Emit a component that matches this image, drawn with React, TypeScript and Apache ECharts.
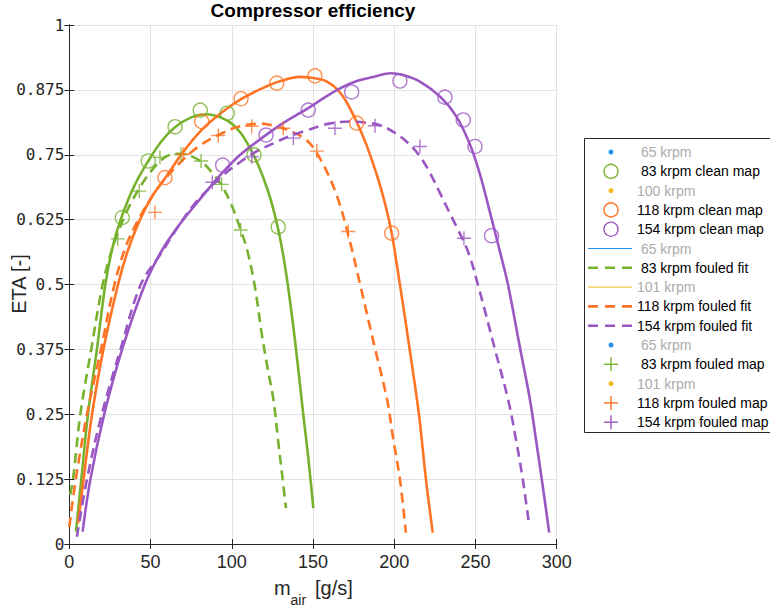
import React, { useEffect, useRef } from "react";
import * as echarts from "echarts";

type P = [number, number];

// Axis ranges
const X_MIN = 0, X_MAX = 300, X_STEP = 50;
const Y_MIN = 0, Y_MAX = 1, Y_STEP = 0.125;

// Fit curves: [m_air g/s, eta]
const cleanFit83: P[] = [[4.1,0.024],[7.4,0.125],[11.5,0.25],[17,0.375],[22.2,0.5],[26.5,0.57],[31.6,0.625],[40,0.69],[48.6,0.738],[57,0.777],[65,0.803],[75,0.822],[84,0.828],[93,0.822],[100,0.81],[106,0.79],[112,0.758],[117,0.725],[122,0.683],[126,0.64],[130,0.585],[134,0.51],[139,0.39],[144,0.25],[147.3,0.16],[150.2,0.069]];
const fouledFit83: P[] = [[0.5,0.095],[2.3,0.125],[6.8,0.25],[13.5,0.375],[20.5,0.5],[26,0.565],[30,0.6],[36,0.645],[43,0.685],[50,0.717],[56,0.738],[62,0.75],[69,0.752],[76,0.746],[82,0.735],[88,0.715],[94,0.69],[100,0.652],[105.5,0.605],[109.2,0.57],[114,0.5],[118.7,0.4],[122,0.34],[125.7,0.277],[128.5,0.2],[131.3,0.125],[133.4,0.069]];
const cleanFit118: P[] = [[5.4,0.04],[8.8,0.125],[14,0.25],[21,0.375],[30,0.5],[36,0.565],[43.5,0.625],[51,0.67],[59,0.705],[70,0.755],[81.5,0.798],[94,0.832],[105.7,0.857],[118,0.877],[130,0.892],[142,0.9],[152,0.897],[158,0.892],[164.6,0.877],[170,0.855],[176.9,0.813],[183,0.768],[189.2,0.712],[194,0.66],[198.4,0.599],[203.5,0.5],[209.5,0.375],[215.2,0.25],[219.5,0.125],[223.7,0.022]];
const fouledFit118: P[] = [[0,0.033],[4,0.125],[10.9,0.25],[19.5,0.375],[27.8,0.5],[35,0.575],[42.5,0.625],[50,0.665],[58,0.7],[69.2,0.738],[80,0.767],[91.7,0.788],[105,0.805],[118.4,0.81],[125.6,0.806],[135,0.797],[146.1,0.778],[154.3,0.743],[164.6,0.672],[172.8,0.582],[179,0.5],[188.3,0.375],[195.7,0.277],[199.5,0.2],[203.5,0.125],[207.2,0.022]];
const cleanFit154: P[] = [[8.2,0.024],[13,0.125],[21.5,0.25],[32.5,0.375],[46.5,0.5],[56.9,0.565],[67,0.612],[77.4,0.653],[88,0.693],[94.4,0.716],[105.2,0.75],[118.4,0.782],[132,0.812],[147.1,0.84],[157,0.86],[166.6,0.878],[177,0.892],[187.1,0.9],[198,0.907],[205,0.904],[215.8,0.891],[228.2,0.862],[238,0.825],[246.6,0.77],[253,0.71],[259,0.638],[265.2,0.562],[270,0.5],[277.3,0.38],[283.6,0.277],[287.3,0.2],[290.8,0.125],[295.4,0.022]];
const fouledFit154: P[] = [[4.7,0.014],[10.9,0.125],[20,0.25],[31.5,0.375],[44,0.5],[56.9,0.562],[67.1,0.612],[77,0.655],[87.6,0.69],[96,0.714],[105.2,0.736],[115,0.756],[125.6,0.772],[135,0.785],[146.1,0.797],[160,0.81],[172.8,0.814],[182,0.812],[191.2,0.807],[200,0.793],[207.7,0.775],[215.8,0.747],[222,0.715],[228.2,0.676],[233,0.645],[238.4,0.611],[245.6,0.562],[251.5,0.5],[262,0.375],[270.2,0.277],[275,0.2],[279.1,0.125],[283.1,0.035]];

// Map points
const cleanMap83: P[] = [[32.6,0.629],[48.6,0.738],[65.1,0.804],[80.6,0.836],[97.2,0.83],[113.7,0.75],[128.6,0.611]];
const fouledMap83: P[] = [[29.8,0.588],[43.1,0.68],[55.8,0.745],[68.8,0.751],[81.1,0.738],[93.8,0.693],[105.5,0.605]];
const cleanMap118: P[] = [[58.9,0.706],[81.5,0.814],[105.7,0.858],[127.7,0.888],[151.2,0.902],[176.9,0.811],[198.4,0.599]];
const fouledMap118: P[] = [[52.7,0.639],[70.2,0.751],[91.7,0.787],[112.3,0.805],[131.7,0.801],[152.3,0.757],[171.7,0.602]];
const cleanMap154: P[] = [[94.4,0.73],[121.1,0.788],[147.1,0.836],[173.8,0.871],[203.5,0.892],[231.2,0.861],[242.5,0.817],[249.7,0.766],[259.9,0.594]];
const fouledMap154: P[] = [[88,0.697],[112.3,0.746],[137.9,0.782],[163.5,0.801],[188.2,0.806],[215.8,0.766],[242.9,0.589]];

// Legend entries
const legendLabels = [" 65 krpm", " 83 krpm clean map", "100 krpm", "118 krpm clean map", "154 krpm clean map", " 65 krpm", " 83 krpm fouled fit", "101 krpm", "118 krpm fouled fit", "154 krpm fouled fit", " 65 krpm", " 83 krpm fouled map", "101 krpm", "118 krpm fouled map", "154 krpm fouled map"];
const legendKinds = ["dot", "circle", "dot", "circle", "circle", "line", "dash", "line", "dash", "dash", "dot", "plus", "dot", "plus", "plus"];
const legendInactive = [true, false, true, false, false, true, false, true, false, false, true, false, true, false, false];

const GREEN = "#77B22F";
const ORANGE = "#FF7424";
const PURPLE = "#9A57C3";
const BLUE = "#2391EB";
const YELLOW = "#F4B71B";
const legendColors = [BLUE, GREEN, YELLOW, ORANGE, PURPLE, BLUE, GREEN, YELLOW, ORANGE, PURPLE, BLUE, GREEN, YELLOW, ORANGE, PURPLE];

const INK = "#262626";
const GRID = "#e3e3e3";
const SANS = "Liberation Sans, Arial, sans-serif";
const MONO = "DejaVu Sans Mono, monospace";
const DASH = [10, 6];
const PLUS = "path://M10,0L10,20M0,10L20,10";

function fitSeries(data: P[], color: string, dashed: boolean) {
  return {
    type: "line",
    data,
    showSymbol: false,
    smooth: 0.35,
    silent: true,
    z: 2,
    itemStyle: { color },
    lineStyle: { color, width: 2.6, type: dashed ? DASH : "solid" },
  };
}

function mapSeries(data: P[], color: string, plus: boolean) {
  return {
    type: "scatter",
    data,
    symbol: plus ? PLUS : "circle",
    symbolSize: 14,
    silent: true,
    z: 3,
    itemStyle: { color: "rgba(0,0,0,0)", borderColor: color, borderWidth: 1.4 },
  };
}

function legendGraphics() {
  const els: any[] = [];
  const top = 138.5, left = 584.5, rowH = 19.3, row0 = 152;
  els.push({
    type: "rect",
    shape: { x: left, y: top, width: 220, height: 294 },
    style: { fill: "#fff", stroke: INK, lineWidth: 1 },
    z: 10,
  });
  legendLabels.forEach((label, i) => {
    const y = row0 + i * rowH;
    const c = legendColors[i];
    const kind = legendKinds[i];
    if (kind === "dot") {
      els.push({ type: "circle", shape: { cx: 611, cy: y, r: 2.5 }, style: { fill: c }, z: 11 });
    } else if (kind === "circle") {
      els.push({ type: "circle", shape: { cx: 611, cy: y, r: 7 }, style: { fill: "none", stroke: c, lineWidth: 1.4 }, z: 11 });
    } else if (kind === "plus") {
      els.push({ type: "line", shape: { x1: 604, y1: y, x2: 618, y2: y }, style: { stroke: c, lineWidth: 1.4 }, z: 11 });
      els.push({ type: "line", shape: { x1: 611, y1: y - 7, x2: 611, y2: y + 7 }, style: { stroke: c, lineWidth: 1.4 }, z: 11 });
    } else if (kind === "line") {
      els.push({ type: "line", shape: { x1: 588, y1: y, x2: 632, y2: y }, style: { stroke: c, lineWidth: 1 }, z: 11 });
    } else {
      els.push({ type: "line", shape: { x1: 588, y1: y, x2: 632, y2: y }, style: { stroke: c, lineWidth: 2.6, lineDash: [10, 7] }, z: 11 });
    }
    els.push({
      type: "text",
      z: 11,
      style: {
        text: label,
        x: 637,
        y,
        fill: legendInactive[i] ? "#ababab" : "#000",
        fontSize: 14,
        fontFamily: SANS,
        verticalAlign: "middle",
        textVerticalAlign: "middle",
      },
    });
  });
  return els;
}

export default function App() {
  const ref = useRef<HTMLDivElement>(null);
  useEffect(() => {
    if (!ref.current) return;
    const chart = echarts.init(ref.current, undefined, { renderer: "svg" });
    const axisCommon = {
      type: "value",
      axisLine: { show: true, lineStyle: { color: INK, width: 1 } },
      axisTick: { show: true, inside: true, length: 5, lineStyle: { color: INK } },
    };
    chart.setOption({
      animation: false,
      backgroundColor: "#fff",
      grid: { left: 69.3, right: 213.3, top: 25, bottom: 67, containLabel: false },
      xAxis: [
        {
          ...axisCommon,
          position: "bottom",
          min: X_MIN, max: X_MAX, interval: X_STEP,
          axisLabel: { color: INK, fontSize: 18, fontFamily: SANS, margin: 9 },
          splitLine: { show: true, lineStyle: { color: GRID, width: 1 } },
        },
        {
          ...axisCommon,
          position: "top",
          min: X_MIN, max: X_MAX, interval: X_STEP,
          axisLabel: { show: false },
          splitLine: { show: false },
        },
      ],
      yAxis: [
        {
          ...axisCommon,
          position: "left",
          min: Y_MIN, max: Y_MAX, interval: Y_STEP,
          axisLabel: { color: INK, fontSize: 16, fontFamily: MONO, margin: 5 },
          splitLine: { show: true, lineStyle: { color: GRID, width: 1 } },
        },
        {
          ...axisCommon,
          position: "right",
          min: Y_MIN, max: Y_MAX, interval: Y_STEP,
          axisLabel: { show: false },
          splitLine: { show: false },
        },
      ],
      series: [
        fitSeries(cleanFit83, GREEN, false),
        fitSeries(fouledFit83, GREEN, true),
        fitSeries(cleanFit118, ORANGE, false),
        fitSeries(fouledFit118, ORANGE, true),
        fitSeries(cleanFit154, PURPLE, false),
        fitSeries(fouledFit154, PURPLE, true),
        mapSeries(cleanMap83, GREEN, false),
        mapSeries(fouledMap83, GREEN, true),
        mapSeries(cleanMap118, ORANGE, false),
        mapSeries(fouledMap118, ORANGE, true),
        mapSeries(cleanMap154, PURPLE, false),
        mapSeries(fouledMap154, PURPLE, true),
      ],
      graphic: {
        elements: [
          {
            type: "text",
            style: {
              text: "Compressor efficiency",
              x: 313, y: 10,
              fill: "#000",
              fontSize: 19, fontWeight: "bold", fontFamily: SANS,
              align: "center", textAlign: "center",
              verticalAlign: "middle", textVerticalAlign: "middle",
            },
          },
          {
            type: "text",
            x: 19, y: 284,
            rotation: Math.PI / 2,
            style: {
              text: "ETA [-]",
              x: 0, y: 0,
              fill: INK,
              fontSize: 20, fontFamily: SANS,
              align: "center", textAlign: "center",
              verticalAlign: "middle", textVerticalAlign: "middle",
            },
          },
          {
            type: "text",
            style: { text: "m", x: 274, y: 588, fill: INK, fontSize: 20, fontFamily: SANS, verticalAlign: "middle", textVerticalAlign: "middle" },
          },
          {
            type: "text",
            style: { text: "air", x: 290.5, y: 599.5, fill: INK, fontSize: 14, fontFamily: SANS, verticalAlign: "middle", textVerticalAlign: "middle" },
          },
          {
            type: "text",
            style: { text: "[g/s]", x: 315, y: 588, fill: INK, fontSize: 20, fontFamily: SANS, verticalAlign: "middle", textVerticalAlign: "middle" },
          },
          ...legendGraphics(),
        ],
      },
    });
    return () => chart.dispose();
  }, []);
  return <div ref={ref} style={{ position: "fixed", left: 0, top: 0, width: 770, height: 611, background: "#fff" }} />;
}
